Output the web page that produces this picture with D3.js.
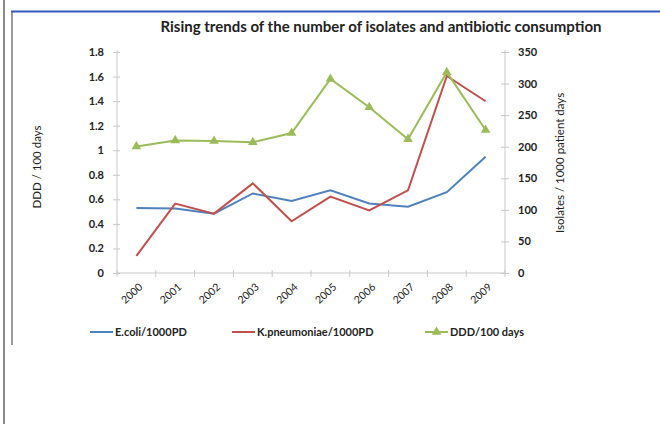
<!DOCTYPE html>
<html><head><meta charset="utf-8">
<script src="https://cdn.jsdelivr.net/npm/d3@7"></script>
<style>body{margin:0;background:#fff}svg{display:block}text{font-family:Lato,"Open Sans",sans-serif}</style>
</head><body>
<script>
const years = ["2000","2001","2002","2003","2004","2005","2006","2007","2008","2009"];
const ecoli = [103, 102, 94, 126, 114, 131, 110, 105, 128, 184];
const kpneu = [27, 110, 94, 142, 82, 121, 99, 131, 312, 272];
const ddd = [1.03, 1.08, 1.075, 1.065, 1.14, 1.58, 1.35, 1.09, 1.635, 1.165];
const leftTicks = [0, 0.2, 0.4, 0.6, 0.8, 1, 1.2, 1.4, 1.6, 1.8];
const rightTicks = [0, 50, 100, 150, 200, 250, 300, 350];
const seriesNames = ["E.coli/1000PD", "K.pneumoniae/1000PD", "DDD/100 days"];
const colors = ["#4f81bd", "#c0504d", "#9bbb59"];
const title = "Rising trends of the number of isolates and antibiotic consumption";

const W = 660, H = 424;
const svg = d3.select("body").append("svg").attr("width", W).attr("height", H);

// frame
svg.append("line").attr("x1",4).attr("x2",4).attr("y1",0).attr("y2",H).attr("stroke","#8a8a8a").attr("stroke-width",2);
svg.append("line").attr("x1",12).attr("x2",12).attr("y1",11).attr("y2",345).attr("stroke","#9a9a9a").attr("stroke-width",2);
svg.append("line").attr("x1",11).attr("x2",W).attr("y1",11.5).attr("y2",11.5).attr("stroke","#3558c0").attr("stroke-width",2);

const x0 = 117, x1 = 505, yTop = 52, yBot = 273;
const x = d3.scaleBand().domain(years).range([x0, x1]);
const yL = d3.scaleLinear().domain([0, 1.8]).range([yBot, yTop]);
const yR = d3.scaleLinear().domain([0, 350]).range([yBot, yTop]);
const cx = d => x(d) + x.bandwidth()/2;

svg.append("text").attr("x", 381).attr("y", 32).attr("text-anchor","middle")
  .attr("font-size", 15).attr("font-weight", 700).attr("fill","#222").text(title);

const axisColor = "#c8c8c8";
// left axis
const gL = svg.append("g").attr("transform", `translate(${x0},0)`)
  .call(d3.axisLeft(yL).tickValues(leftTicks).tickFormat(d3.format("~g")).tickSize(4).tickPadding(9));
gL.selectAll("text").attr("font-size", 11).attr("font-weight",700).attr("fill","#222");
gL.selectAll(".tick line").attr("x2", 3).attr("x1", -4).attr("stroke", axisColor);
gL.select(".domain").attr("stroke", axisColor).attr("d", `M0,${yTop-2}V${yBot}`);

// right axis
const gR = svg.append("g").attr("transform", `translate(${x1},0)`)
  .call(d3.axisRight(yR).tickValues(rightTicks).tickSize(4).tickPadding(9));
gR.selectAll("text").attr("font-size", 11).attr("font-weight",700).attr("fill","#222");
gR.selectAll(".tick line").attr("x1", -4).attr("x2", 4).attr("stroke", axisColor);
gR.select(".domain").attr("stroke", axisColor).attr("d", `M0,${yTop-2}V${yBot}`);

// bottom axis
const gB = svg.append("g").attr("transform", `translate(0,${yBot})`);
gB.append("line").attr("x1", x0).attr("x2", x1).attr("stroke", axisColor);
const bounds = years.map(d => x(d)).concat([x1]);
gB.selectAll("line.tk").data(bounds).join("line").attr("class","tk")
  .attr("x1", d => d).attr("x2", d => d).attr("y1", -3).attr("y2", 4).attr("stroke", axisColor);
gB.selectAll("text").data(years).join("text")
  .attr("transform", d => `translate(${cx(d)+7},${15}) rotate(-42)`)
  .attr("text-anchor","end").attr("font-size", 10.5).attr("fill","#222").text(d => d);

// axis titles
svg.append("text").attr("transform", `translate(41,167) rotate(-90)`).attr("text-anchor","middle")
  .attr("font-size", 11.5).attr("fill","#222").text("DDD / 100 days");
svg.append("text").attr("transform", `translate(564,163) rotate(-90)`).attr("text-anchor","middle")
  .attr("font-size", 11.5).attr("fill","#222").text("Isolates / 1000 patient days");

// lines
const lineR = d3.line().x((d,i) => cx(years[i])).y(d => yR(d));
const lineL = d3.line().x((d,i) => cx(years[i])).y(d => yL(d));
svg.append("path").attr("d", lineR(ecoli)).attr("fill","none").attr("stroke", colors[0]).attr("stroke-width", 2);
svg.append("path").attr("d", lineR(kpneu)).attr("fill","none").attr("stroke", colors[1]).attr("stroke-width", 2);
svg.append("path").attr("d", lineL(ddd)).attr("fill","none").attr("stroke", colors[2]).attr("stroke-width", 2);
const tri = d3.symbol().type(d3.symbolTriangle).size(40);
svg.selectAll("path.mk").data(ddd).join("path").attr("class","mk")
  .attr("transform", (d,i) => `translate(${cx(years[i])},${yL(d)})`)
  .attr("d", tri).attr("fill", colors[2]);

// legend
const legX = [90, 232, 425];
const lg = svg.append("g");
seriesNames.forEach((n, i) => {
  lg.append("line").attr("x1", legX[i]).attr("x2", legX[i]+23).attr("y1", 332).attr("y2", 332)
    .attr("stroke", colors[i]).attr("stroke-width", 2);
  if (i === 2) lg.append("path").attr("transform", `translate(${legX[i]+11.5},332)`).attr("d", tri).attr("fill", colors[i]);
  lg.append("text").attr("x", legX[i]+25).attr("y", 336).attr("font-size", 11).attr("font-weight",700)
    .attr("fill","#222").text(n);
});
</script>
</body></html>
